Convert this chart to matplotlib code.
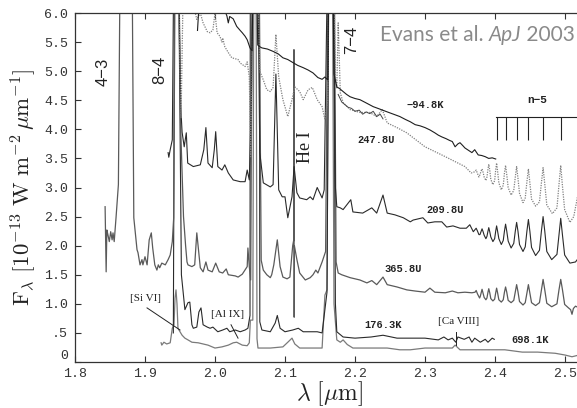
import numpy as np
import matplotlib
matplotlib.use('Agg')
import matplotlib.pyplot as plt

plt.rcParams['mathtext.fontset'] = 'cm'

# ---------------- data (wavelength [um], flux [1e-13 W m^-2 um^-1]) ----------------
spec_m948K = [(1.975, 5.70), (1.978, 6.30), (1.990, 6.50), (2.005, 6.40), (2.012, 6.10), (2.017, 5.95),
              (2.019, 5.83), (2.021, 5.94), (2.026, 5.90), (2.031, 5.77), (2.036, 5.70), (2.039, 5.66),
              (2.043, 5.60), (2.046, 5.54), (2.050, 5.40), (2.053, 5.35), (2.0555, 7.5), (2.0585, 7.5),
              (2.061, 5.45), (2.064, 5.42), (2.067, 5.40), (2.075, 5.38), (2.083, 5.34), (2.090, 5.30),
              (2.097, 5.23), (2.104, 5.20), (2.111, 5.15), (2.118, 5.10), (2.126, 5.06), (2.133, 5.02),
              (2.140, 4.97), (2.147, 4.89), (2.153, 4.86), (2.157, 4.90), (2.161, 4.85), (2.1635, 7.5),
              (2.1675, 7.5), (2.170, 4.95), (2.174, 4.73), (2.178, 4.70), (2.183, 4.65), (2.188, 4.60),
              (2.193, 4.56), (2.200, 4.53), (2.207, 4.51), (2.215, 4.46), (2.226, 4.39), (2.235, 4.35),
              (2.246, 4.30), (2.255, 4.26), (2.264, 4.22), (2.272, 4.17), (2.279, 4.13), (2.286, 4.08),
              (2.293, 4.06), (2.300, 4.03), (2.307, 3.99), (2.314, 3.94), (2.319, 3.90), (2.324, 3.87),
              (2.330, 3.84), (2.335, 3.81), (2.339, 3.79), (2.343, 3.70), (2.347, 3.75), (2.350, 3.77),
              (2.354, 3.72), (2.357, 3.68), (2.362, 3.64), (2.367, 3.60), (2.371, 3.65), (2.376, 3.56),
              (2.381, 3.55), (2.386, 3.53), (2.391, 3.50), (2.396, 3.51), (2.401, 3.49)]

spec_2478U = [(1.946, 7.5), (1.9515, 4.20), (1.956, 7.5), (1.963, 7.5), (1.968, 6.20), (1.974, 5.89),
              (1.979, 6.00), (1.983, 5.83), (1.989, 5.68), (1.993, 5.66), (1.997, 5.71), (2.000, 6.00),
              (2.003, 5.66), (2.007, 5.60), (2.010, 5.50), (2.011, 5.57), (2.014, 5.42), (2.019, 5.32),
              (2.024, 5.23), (2.033, 5.20), (2.036, 5.14), (2.043, 5.08), (2.046, 5.16), (2.049, 4.90),
              (2.051, 3.53), (2.053, 5.00), (2.0555, 7.5), (2.0595, 7.5), (2.064, 5.00), (2.069, 4.85),
              (2.074, 4.68), (2.079, 4.65), (2.083, 4.72), (2.087, 5.63), (2.091, 4.90), (2.097, 4.51),
              (2.104, 4.22), (2.110, 4.51), (2.114, 4.73), (2.121, 4.65), (2.126, 4.51), (2.133, 4.68),
              (2.139, 4.72), (2.146, 4.51), (2.153, 4.39), (2.157, 4.17), (2.161, 4.50), (2.163, 7.5),
              (2.169, 7.5), (2.172, 4.90), (2.174, 4.70), (2.176, 5.83), (2.179, 4.63), (2.183, 4.46),
              (2.193, 4.34), (2.207, 4.29), (2.221, 4.29), (2.231, 4.22), (2.239, 4.34), (2.246, 4.11),
              (2.260, 4.03), (2.274, 3.94), (2.300, 3.70), (2.329, 3.53), (2.357, 3.36), (2.366, 3.25),
              (2.371, 3.27), (2.3731, 3.30), (2.375, 3.24), (2.377, 3.18),
              (2.3785, 3.22), (2.380, 3.28), (2.3815, 3.32), (2.383, 3.26), (2.3845, 3.18), (2.387, 3.12),
              (2.3885, 3.18), (2.3898, 3.30), (2.3911, 3.40), (2.3925, 3.30), (2.394, 3.14), (2.397, 3.05),
              (2.3995, 3.12), (2.401, 3.30), (2.4023, 3.42), (2.4037, 3.28), (2.4055, 3.08), (2.409, 2.96),
              (2.4118, 3.04), (2.4135, 3.25), (2.4151, 3.38), (2.4168, 3.22), (2.4188, 3.00), (2.423, 2.87),
              (2.4268, 2.95), (2.4290, 3.18), (2.4309, 3.36), (2.4328, 3.16), (2.435, 2.90), (2.440, 2.74),
              (2.4432, 2.82), (2.4456, 3.10), (2.4477, 3.32), (2.4498, 3.08), (2.4522, 2.80), (2.458, 2.68),
              (2.4635, 2.75), (2.4663, 3.08), (2.4687, 3.34), (2.4711, 3.06), (2.474, 2.70), (2.482, 2.55),
              (2.4885, 2.65), (2.4914, 3.05), (2.4939, 3.38), (2.4964, 3.02), (2.4995, 2.62), (2.507, 2.40),
              (2.5125, 2.50), (2.5165, 2.75), (2.520, 3.00)]

spec_2478U_noisy = [(2.176, 4.60), (2.181, 4.47), (2.186, 4.42), (2.190, 4.38), (2.195, 4.36), (2.200, 4.31),
                    (2.206, 4.33), (2.211, 4.26), (2.216, 4.30), (2.221, 4.27), (2.226, 4.31), (2.231, 4.22),
                    (2.236, 4.26), (2.240, 4.18)]

spec_2098U = [(1.933, 3.60), (1.934, 3.52), (1.936, 3.65), (1.939, 3.82), (1.9415, 7.5), (1.9475, 7.5),
              (1.951, 4.40), (1.953, 3.95), (1.956, 3.70), (1.959, 3.94), (1.961, 3.42), (1.969, 3.36),
              (1.979, 3.39), (1.984, 3.65), (1.987, 4.03), (1.990, 3.42), (1.996, 3.34), (1.999, 3.65),
              (2.001, 3.96), (2.004, 3.36), (2.010, 3.30), (2.014, 3.39), (2.019, 3.25), (2.026, 3.13),
              (2.036, 3.10), (2.043, 3.10), (2.046, 3.30), (2.049, 3.13), (2.052, 4.50), (2.0545, 7.5),
              (2.0605, 7.5), (2.064, 3.60), (2.069, 3.08), (2.079, 3.01), (2.083, 3.05), (2.087, 4.95),
              (2.091, 2.96), (2.096, 2.84), (2.100, 2.84), (2.104, 2.48), (2.110, 2.84), (2.113, 3.36),
              (2.117, 2.91), (2.121, 2.82), (2.131, 2.79), (2.136, 2.84), (2.140, 2.79), (2.146, 3.00),
              (2.153, 2.82), (2.156, 2.96), (2.1615, 7.5), (2.1685, 7.5), (2.172, 3.00), (2.174, 2.67),
              (2.179, 2.65), (2.183, 2.62), (2.194, 2.79), (2.197, 2.58), (2.211, 2.56), (2.224, 2.65),
              (2.231, 2.56), (2.240, 2.87), (2.246, 2.56), (2.257, 2.53), (2.269, 2.48), (2.279, 2.41),
              (2.283, 2.44), (2.297, 2.48), (2.304, 2.39), (2.314, 2.41), (2.324, 2.41), (2.331, 2.32),
              (2.340, 2.34), (2.350, 2.30), (2.359, 2.30), (2.364, 2.36), (2.369, 2.24),
              (2.371, 2.27), (2.3731, 2.30), (2.375, 2.25), (2.377, 2.19),
              (2.3785, 2.19), (2.3800, 2.24), (2.3815, 2.29), (2.383, 2.24), (2.3845, 2.18), (2.387, 2.12),
              (2.3885, 2.16), (2.3898, 2.24), (2.3911, 2.31), (2.3925, 2.24), (2.394, 2.15), (2.397, 2.07),
              (2.3995, 2.12), (2.401, 2.25), (2.4023, 2.34), (2.4037, 2.25), (2.4055, 2.12), (2.409, 2.02),
              (2.4118, 2.09), (2.4135, 2.25), (2.4151, 2.37), (2.4168, 2.25), (2.4188, 2.08), (2.423, 1.96),
              (2.4268, 2.04), (2.4290, 2.25), (2.4309, 2.40), (2.4328, 2.25), (2.435, 2.02), (2.440, 1.90),
              (2.4432, 1.98), (2.4456, 2.25), (2.4477, 2.45), (2.4498, 2.25), (2.4522, 1.97), (2.458, 1.83),
              (2.4635, 1.92), (2.4663, 2.25), (2.4687, 2.50), (2.4711, 2.25), (2.474, 1.90), (2.481, 1.76),
              (2.4885, 1.85), (2.4914, 2.18), (2.4939, 2.47), (2.4964, 2.18), (2.4995, 1.84), (2.507, 1.70),
              (2.515, 1.72), (2.520, 1.80)]

spec_3658U = [(1.843, 2.67), (1.8445, 1.55), (1.8455, 2.27), (1.847, 2.19), (1.849, 2.07), (1.851, 2.24),
              (1.853, 2.10), (1.8543, 2.22), (1.856, 2.07), (1.8586, 2.48), (1.862, 3.05), (1.8645, 7.0),
              (1.870, 10.0), (1.878, 10.0), (1.8815, 7.0), (1.884, 2.48), (1.8886, 1.93), (1.890, 1.88),
              (1.8929, 1.67), (1.8957, 1.76), (1.897, 1.67), (1.900, 1.81), (1.903, 1.67), (1.906, 2.10),
              (1.909, 2.22), (1.911, 1.96), (1.914, 1.67), (1.917, 1.58), (1.919, 1.67), (1.921, 1.62),
              (1.924, 1.70), (1.929, 1.67), (1.933, 1.76), (1.936, 1.84), (1.939, 2.07), (1.941, 2.48),
              (1.9435, 8.0), (1.9465, 8.0), (1.951, 4.00), (1.955, 2.50), (1.958, 2.00), (1.960, 1.72),
              (1.9614, 1.67), (1.967, 1.64), (1.971, 1.67), (1.974, 2.22), (1.979, 1.62), (1.983, 1.55),
              (1.987, 1.72), (1.990, 1.58), (1.996, 1.55), (2.001, 1.70), (2.006, 1.55), (2.011, 1.53),
              (2.016, 1.60), (2.019, 1.50), (2.029, 1.48), (2.033, 1.46), (2.039, 1.51), (2.046, 1.64),
              (2.047, 1.96), (2.049, 1.64), (2.051, 1.41), (2.0535, 7.5), (2.0625, 7.5), (2.066, 1.75),
              (2.069, 1.58), (2.074, 1.50), (2.079, 1.45), (2.081, 1.50), (2.084, 1.67), (2.089, 2.10),
              (2.093, 1.64), (2.097, 1.46), (2.103, 1.43), (2.107, 1.46), (2.111, 2.00), (2.1125, 2.10),
              (2.1128, 5.37), (2.1131, 0.77), (2.1134, 2.00), (2.117, 1.76), (2.121, 1.53), (2.129, 1.41),
              (2.136, 1.45), (2.140, 1.50), (2.144, 1.58), (2.147, 1.53), (2.153, 1.72), (2.158, 1.90),
              (2.162, 7.5), (2.170, 7.5), (2.173, 1.72), (2.176, 1.53), (2.181, 1.50), (2.193, 1.45),
              (2.207, 1.41), (2.217, 1.36), (2.224, 1.40), (2.231, 1.33), (2.240, 1.46), (2.246, 1.33),
              (2.260, 1.29), (2.274, 1.24), (2.286, 1.22), (2.300, 1.20), (2.307, 1.27), (2.314, 1.20),
              (2.329, 1.19), (2.339, 1.22), (2.347, 1.19), (2.357, 1.20), (2.367, 1.19),
              (2.3715, 1.20), (2.3731, 1.23), (2.375, 1.17), (2.378, 1.10),
              (2.379, 1.13), (2.3802, 1.19), (2.3815, 1.25), (2.3828, 1.19), (2.3845, 1.11), (2.387, 1.07),
              (2.3885, 1.10), (2.3898, 1.19), (2.3911, 1.26), (2.3925, 1.19), (2.394, 1.09), (2.397, 1.05),
              (2.3995, 1.08), (2.401, 1.19), (2.4023, 1.27), (2.4037, 1.19), (2.4055, 1.07), (2.409, 1.03),
              (2.4118, 1.07), (2.4135, 1.20), (2.4151, 1.29), (2.4168, 1.20), (2.4188, 1.06), (2.423, 1.02),
              (2.4268, 1.06), (2.4290, 1.21), (2.4309, 1.33), (2.4328, 1.21), (2.435, 1.04), (2.440, 0.98),
              (2.4432, 1.02), (2.4456, 1.19), (2.4477, 1.33), (2.4498, 1.19), (2.4522, 1.02), (2.458, 0.97),
              (2.4635, 1.02), (2.4663, 1.24), (2.4687, 1.42), (2.4711, 1.24), (2.474, 1.01), (2.481, 0.95),
              (2.4885, 1.00), (2.4914, 1.24), (2.4939, 1.42), (2.4964, 1.24), (2.4995, 0.99), (2.505, 0.93),
              (2.508, 0.90), (2.510, 0.82), (2.512, 0.92), (2.515, 0.96), (2.520, 0.93)]

spec_1763K = [(1.9405, 0.50), (1.9425, 7.5), (1.9475, 7.5), (1.952, 1.50), (1.957, 0.90), (1.9614, 1.02),
              (1.964, 1.03), (1.967, 0.64), (1.969, 0.58), (1.974, 0.60), (1.977, 0.86), (1.980, 0.93),
              (1.983, 0.64), (1.989, 0.60), (1.993, 0.58), (1.997, 0.60), (2.004, 0.52), (2.011, 0.55),
              (2.017, 0.58), (2.021, 0.52), (2.029, 0.55), (2.036, 0.52), (2.043, 0.55), (2.047, 0.58),
              (2.050, 0.80), (2.0505, 7.5), (2.0635, 7.5), (2.064, 0.69), (2.067, 0.55), (2.079, 0.52),
              (2.086, 0.67), (2.089, 0.80), (2.093, 0.58), (2.100, 0.52), (2.111, 0.55), (2.119, 0.58),
              (2.126, 0.52), (2.136, 0.52), (2.146, 0.52), (2.153, 0.50), (2.157, 0.90), (2.160, 1.20),
              (2.163, 7.5), (2.169, 7.5), (2.172, 1.00), (2.174, 0.52), (2.183, 0.43), (2.200, 0.41),
              (2.223, 0.43), (2.240, 0.46), (2.260, 0.41), (2.279, 0.41), (2.300, 0.41), (2.319, 0.38),
              (2.327, 0.43), (2.333, 0.38), (2.339, 0.41), (2.344, 0.34), (2.347, 0.43), (2.356, 0.39),
              (2.363, 0.43), (2.367, 0.34), (2.371, 0.41), (2.379, 0.34), (2.386, 0.39), (2.390, 0.34),
              (2.396, 0.41), (2.399, 0.39)]

spec_6981K = [(1.923, 0.33), (1.924, 0.29), (1.927, 0.34), (1.931, 0.31), (1.936, 0.33), (1.939, 0.58),
              (1.9414, 0.64), (1.9429, 1.10), (1.9443, 1.24), (1.9457, 1.00), (1.9471, 0.58), (1.950, 0.52),
              (1.953, 0.46), (1.957, 0.41), (1.9614, 0.38), (1.967, 0.34), (1.976, 0.33), (1.990, 0.29),
              (2.000, 0.24), (2.010, 0.26), (2.019, 0.29), (2.026, 0.33), (2.031, 0.34), (2.039, 0.29),
              (2.046, 0.28), (2.049, 0.33), (2.0505, 0.72), (2.054, 0.72), (2.0557, 7.5), (2.0585, 7.5),
              (2.060, 0.40), (2.0614, 0.24), (2.079, 0.24), (2.097, 0.26), (2.104, 0.34), (2.110, 0.41),
              (2.114, 0.31), (2.121, 0.24), (2.140, 0.24), (2.153, 0.24), (2.157, 1.15), (2.160, 1.24),
              (2.1625, 7.5), (2.1675, 7.5), (2.170, 1.00), (2.174, 0.38), (2.179, 0.34), (2.183, 0.38),
              (2.189, 0.30), (2.197, 0.24), (2.226, 0.24), (2.246, 0.24), (2.264, 0.21), (2.279, 0.21),
              (2.300, 0.24), (2.339, 0.24), (2.343, 0.29), (2.350, 0.21), (2.390, 0.21), (2.414, 0.21),
              (2.439, 0.17), (2.461, 0.17), (2.486, 0.15), (2.500, 0.12), (2.510, 0.09), (2.520, 0.12)]

pfund_lines = [2.4023, 2.4151, 2.4309, 2.4477, 2.4687, 2.4939]   # "n-5" comb
pfund_bar = (2.401, 4.22, 3.82)                                   # start, bar level, tick bottom

x_ticks = [1.8, 1.9, 2.0, 2.1, 2.2, 2.3, 2.4, 2.5]
x_ticklabels = ['1.8', '1.9', '2.0', '2.1', '2.2', '2.3', '2.4', '2.5']
y_ticks = [0, 0.5, 1.0, 1.5, 2.0, 2.5, 3.0, 3.5, 4.0, 4.5, 5.0, 5.5, 6.0]
y_ticklabels = ['0', '.5', '1.0', '1.5', '2.0', '2.5', '3.0', '3.5', '4.0', '4.5', '5.0', '5.5', '6.0']

spectrum_labels = [('\u221294.8K', 2.300, 4.41), ('247.8U', 2.230, 3.82), ('209.8U', 2.329, 2.62),
                   ('365.8U', 2.269, 1.60), ('176.3K', 2.240, 0.64), ('698.1K', 2.450, 0.38)]
line_ids = [('4\u22123', 1.840, 4.99), ('8\u22124', 1.9206, 5.02), ('7\u22124', 2.1957, 5.54)]
ion_labels = [('[Si VI]', 1.900, 1.10), ('[Al IX]', 2.0186, 0.81), ('[Ca VIII]', 2.3486, 0.69)]
si_pointer = ([1.9029, 1.950], [0.93, 0.55])
al_pointer = ([2.0229, 2.0329], [0.64, 0.41])
ca_marker = ([2.3443, 2.3443], [0.52, 0.29])

# ---------------- figure ----------------
fig = plt.figure(figsize=(5.77, 4.08), dpi=100)
ax = fig.add_axes([75/577, 46/408, 508/577, 349/408])
ax.set_xlim(1.8, 1.8 + 508/700)
ax.set_ylim(0, 6)

def draw(spec, **kw):
    a = np.array(spec)
    ax.plot(a[:, 0], a[:, 1], **kw)

draw(spec_6981K, color='#7a7a7a', lw=0.9)
draw(spec_1763K, color='#2a2a2a', lw=0.8)
draw(spec_3658U, color='#5a5a5a', lw=0.9)
draw(spec_2098U, color='#2a2a2a', lw=0.8)
draw(spec_2478U, color='#808080', lw=0.9, ls=(0, (1, 1)))
draw(spec_2478U_noisy, color='#444444', lw=0.7)
draw(spec_m948K, color='#1e1e1e', lw=0.8)

# Pfund comb
x0, ybar, ybot = pfund_bar
ax.plot([x0, 2.53], [ybar, ybar], color='#222222', lw=0.8)
ax.vlines(pfund_lines, ybot, ybar, color='#222222', lw=0.8)
ax.text(2.46, 4.51, 'n\u22125', family='Liberation Mono', fontsize=8, weight='bold',
        ha='center', va='center', color='#222222')

for t, x, y in spectrum_labels:
    ax.text(x, y, t, family='Liberation Mono', fontsize=7.5, weight='bold',
            ha='center', va='center', color='#222222')
for t, x, y in line_ids:
    ax.text(x, y, t, family='Liberation Sans', fontsize=12, rotation=90,
            ha='center', va='center', color='#222222')
ax.text(2.130, 3.70, 'He I', family='Liberation Serif', fontsize=13, rotation=90,
        ha='center', va='center', color='#222222')
for t, x, y in ion_labels:
    ax.text(x, y, t, family='Liberation Serif', fontsize=8, ha='center', va='center', color='#222222')
ax.plot(*si_pointer, color='#222222', lw=0.7)
ax.plot(*al_pointer, color='#222222', lw=0.7)
ax.plot(*ca_marker, color='#222222', lw=0.7)

# axes styling
ax.set_xticks(x_ticks)
ax.set_xticklabels(x_ticklabels)
ax.set_yticks(y_ticks)
ax.set_yticklabels(y_ticklabels)
ax.tick_params(direction='in', top=True, right=False, length=4, width=0.8, color='#333333',
               labelsize=9.5, labelcolor='#333333')
ax.tick_params(axis='x', pad=4)
ax.tick_params(axis='y', pad=5)
for lab in ax.get_xticklabels() + ax.get_yticklabels():
    lab.set_family('Liberation Mono')
ax.get_yticklabels()[0].set_va('bottom')
for s in ax.spines.values():
    s.set_color('#333333')
    s.set_linewidth(0.9)

ax.set_ylabel(r'$\mathrm{F}_{\lambda}\ [10^{-13}\ \mathrm{W\ m}^{-2}\,\mu\mathrm{m}^{-1}]$',
              fontsize=16.5, color='#222222')
ax.yaxis.set_label_coords((39 - 75) / 508, 0.5)
ax.set_xlabel(r'$\lambda\ [\mu\mathrm{m}]$', fontsize=17, color='#222222')
ax.xaxis.set_label_coords(0.5, (362 - 379) / 349)

# credit
t1 = fig.text(380/577, 1 - 41/408, 'Evans et al. ', family='Lato', fontsize=15, color='#8a8a8a', va='baseline')
t2 = ax.annotate('ApJ', xy=(1, 0), xycoords=t1, family='Lato', style='italic', fontsize=15,
                 color='#8a8a8a', va='bottom', annotation_clip=False)
t3 = ax.annotate(' 2003', xy=(1, 0), xycoords=t2, family='Lato', fontsize=15, color='#8a8a8a',
                 va='bottom', annotation_clip=False)

fig.savefig('out.png', dpi=100)
